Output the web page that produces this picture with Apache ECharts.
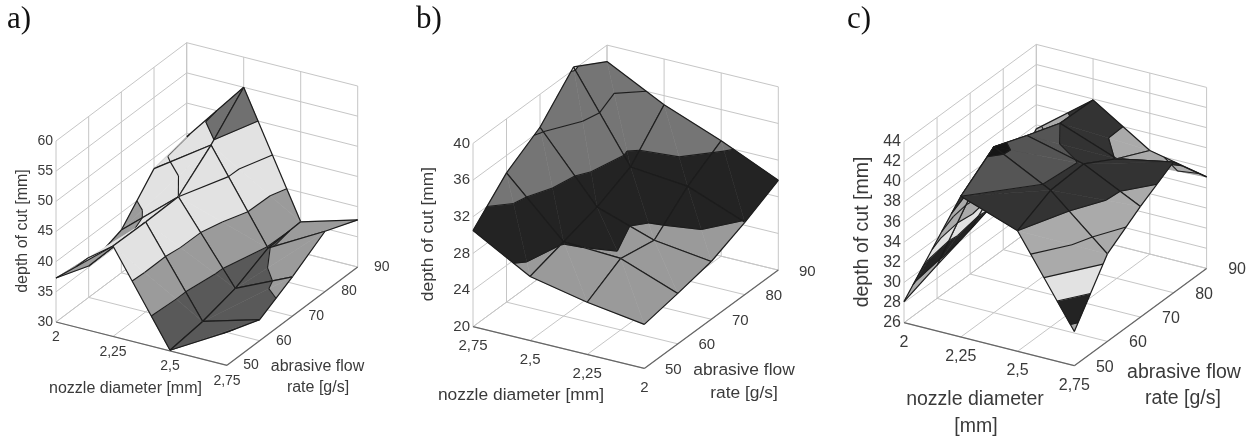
<!DOCTYPE html>
<html><head><meta charset="utf-8">
<style>html,body{margin:0;padding:0;background:#fff}#c{width:1255px;height:438px}</style>
<script src="https://cdn.jsdelivr.net/npm/echarts@6/dist/echarts.min.js"></script>
</head><body><div id="c"></div>
<script>
// ---------- data ----------
const nozzleAscending = ['2','2,25','2,5','2,75'];
const nozzleDescending = ['2,75','2,5','2,25','2'];
const flowTicks = ['50','60','70','80','90'];
const zTicksA = [30,35,40,45,50,55,60];
const zTicksB = [20,24,28,32,36,40];
const zTicksC = [26,28,30,32,34,36,38,40,42,44];

// depth of cut: one row per nozzle position, one value per flow rate 50..90
const depthA0 = [37.3,35.2,37.1,43.2,44.4];
const depthA1 = [45.0,44.9,45.0,49.5,55.0];
const depthA2 = [30.1,30.8,32.2,34.8,35.1];
const depthA3 = [35.5,33.5,36.5,40.0,37.8];

const depthB0 = [30.5,34.1,36.4,40.3,38.2];
const depthB1 = [27.0,28.1,29.2,30.9,35.0];
const depthB2 = [25.7,27.8,27.1,30.3,32.6];
const depthB3 = [24.8,25.5,26.3,27.9,29.8];

const depthC0 = [28.1,29.3,30.4,31.6,35.6];
const depthC1 = [40.0,42.5,41.2,40.0,39.9];
const depthC2 = [38.0,39.6,39.8,37.9,36.3];
const depthC3 = [29.4,34.7,37.0,39.0,35.1];

// ---------- fill colour per contour band, and the camera of each panel ----------
const bandsA = ['#595959','#9b9b9b','#e2e2e2','#e2e2e2','#707070','#707070'];
const bandsB = ['#999999','#9a9a9a','#232323','#757575','#757575','#757575'];
const bandsC = ['#aaaaaa','#aaaaaa','#232323','#e2e2e2','#aaaaaa','#aaaaaa','#333333','#555555','#151515'];

const panels = [
  {name:'a)', nx:7, rows:[depthA0,depthA1,depthA2,depthA3], nozzle:nozzleAscending, z:zTicksA, bands:bandsA, diagA:true, faintEdge:[0,3],
   O:[56,322], vi:[171,43.3], vj:[130.7,-98.3], h:181, tickFont:14, titleFont:16, tick:{zx:3,ny:15.5,fx:24,fy:0},
   zT:[23,231], nT:[[125.5,389,'nozzle diameter [mm]']], fT:[[317.5,367,'abrasive flow'],[318,388,'rate [g/s]']]},
  {name:'b)', nx:416, rows:[depthB0,depthB1,depthB2,depthB3], nozzle:nozzleDescending, z:zTicksB, bands:bandsB, diagA:false,
   O:[473,326.7], vi:[171.3,41.7], vj:[134,-98.3], h:183.3, tickFont:15, titleFont:17.4, tick:{zx:3,ny:19,fx:29,fy:1.5},
   zT:[428,234], nT:[[521,395,'nozzle diameter [mm]']], fT:[[744,370,'abrasive flow'],[744,393,'rate [g/s]']]},
  {name:'c)', nx:847, rows:[depthC0,depthC1,depthC2,depthC3], nozzle:nozzleAscending, z:zTicksC, bands:bandsC, diagA:true,
   O:[904,322.7], vi:[170.3,43], vj:[132.3,-97.3], h:181, tickFont:16, titleFont:19.5, tick:{zx:3,ny:19.5,fx:30.5,fy:1.5},
   zT:[863,232], nT:[[975,400,'nozzle diameter'],[976,427,'[mm]']], fT:[[1184,373,'abrasive flow'],[1183,399,'rate [g/s]']]}
];

const TEXT = '#3a3a3a', WALL = '#c6c6c6', AXIS = '#666666', MESH = '#1c1c1c';

function project(p, i, j, z){
  const lo = p.z[0], hi = p.z[p.z.length-1];
  const u = i/3, v = j/4, w = (z-lo)/(hi-lo);
  return [p.O[0]+u*p.vi[0]+v*p.vj[0], p.O[1]+u*p.vi[1]+v*p.vj[1]-w*p.h];
}

// clip a polygon of [i,j,z] vertices to z>=L (sign=1) or z<=L (sign=-1)
function clip(poly, L, sign){
  const out = [];
  for(let k=0;k<poly.length;k++){
    const a = poly[k], b = poly[(k+1)%poly.length];
    const da = sign*(a[2]-L), db = sign*(b[2]-L);
    if(da>=0) out.push(a);
    if((da>=0)!==(db>=0)){
      const t = da/(da-db);
      out.push([a[0]+t*(b[0]-a[0]), a[1]+t*(b[1]-a[1]), L]);
    }
  }
  return out;
}
function contourSegment(tri, L){
  const pts=[];
  for(let k=0;k<3;k++){
    const a=tri[k], b=tri[(k+1)%3];
    if((a[2]>=L)!==(b[2]>=L)){
      const t=(L-a[2])/(b[2]-a[2]);
      pts.push([a[0]+t*(b[0]-a[0]),a[1]+t*(b[1]-a[1]),L]);
    }
  }
  return pts.length===2?pts:null;
}

function cellRenderer(p){
  return function(params, api){
    const i = api.value(0), j = api.value(1);
    const V = (a,b)=>[a,b,p.rows[a][b]];
    const A=V(i,j), B=V(i+1,j), C=V(i+1,j+1), D=V(i,j+1);
    const tris = p.diagA ? [[A,C,D],[A,B,C]] : [[A,B,D],[B,C,D]];
    const P = q => api.coord(project(p,q[0],q[1],q[2]));
    const children=[];
    const levels=p.z;
    tris.forEach(tri=>{
      for(let b=0;b<levels.length-1;b++){
        let poly=clip(tri,levels[b],1);
        if(poly.length) poly=clip(poly,levels[b+1],-1);
        if(poly.length>2){
          const col=p.bands[b];
          children.push({type:'polygon',shape:{points:poly.map(P)},style:{fill:col,stroke:col,lineWidth:0.6}});
        }
      }
    });
    tris.forEach(tri=>{
      levels.forEach(L=>{
        const s=contourSegment(tri,L);
        if(s) children.push({type:'line',shape:{x1:P(s[0])[0],y1:P(s[0])[1],x2:P(s[1])[0],y2:P(s[1])[1]},style:{stroke:MESH,lineWidth:1.1}});
      });
    });
    const faint = p.faintEdge && p.faintEdge[0]===i && p.faintEdge[1]===j;
    [[A,B],[B,C],[C,D],[D,A]].forEach((e,k)=>{
      const a=P(e[0]), b=P(e[1]);
      const light = faint && k===3;
      children.push({type:'line',shape:{x1:a[0],y1:a[1],x2:b[0],y2:b[1]},style:{stroke:light?'#d4d4d4':MESH,lineWidth:1.2}});
    });
    return {type:'group',children};
  };
}

function boxSegments(p){
  const lo=p.z[0], hi=p.z[p.z.length-1], segs=[];
  for(let j=0;j<=4;j++){
    segs.push([0,j,lo,3,j,lo,0]);            // floor, along nozzle
    segs.push([0,j,lo,0,j,hi,0]);            // left wall vertical
  }
  for(let i=0;i<=3;i++){
    segs.push([i,0,lo,i,4,lo,0]);            // floor, along flow
    segs.push([i,4,lo,i,4,hi,0]);            // back wall vertical
  }
  p.z.forEach(z=>{
    segs.push([0,0,z,0,4,z,0]);
    segs.push([0,4,z,3,4,z,0]);
  });
  segs.push([0,0,lo,3,0,lo,1]);
  segs.push([3,0,lo,3,4,lo,1]);
  return segs;
}

const series=[];
panels.forEach(p=>{
  // box
  series.push({type:'custom',coordinateSystem:'cartesian2d',silent:true,clip:false,z:1,animation:false,
    data:boxSegments(p),
    renderItem(params,api){
      const a=api.coord(project(p,api.value(0),api.value(1),api.value(2)));
      const b=api.coord(project(p,api.value(3),api.value(4),api.value(5)));
      const strong=api.value(6)===1;
      return {type:'line',z2:strong?2:1,shape:{x1:a[0],y1:a[1],x2:b[0],y2:b[1]},style:{stroke:strong?AXIS:WALL,lineWidth:strong?1.2:1}};
    }});
  // surface, far cells first
  const cells=[];
  for(let j=3;j>=0;j--) for(let i=0;i<3;i++) cells.push([i,j]);
  series.push({type:'custom',coordinateSystem:'cartesian2d',silent:true,clip:false,z:2,animation:false,
    data:cells,renderItem:cellRenderer(p)});
  // tick labels
  const ticks=[];
  p.z.forEach((z,k)=>ticks.push({pos:[0,0,z],dx:-p.tick.zx,dy:0,text:String(z),align:'right'}));
  p.nozzle.forEach((t,k)=>ticks.push({pos:[k,0,p.z[0]],dx:0,dy:p.tick.ny,text:t,align:'center'}));
  flowTicks.forEach((t,k)=>ticks.push({pos:[3,k,p.z[0]],dx:p.tick.fx,dy:p.tick.fy,text:t,align:'center'}));
  series.push({type:'custom',coordinateSystem:'cartesian2d',silent:true,clip:false,z:3,animation:false,
    data:ticks.map(t=>t.pos),
    renderItem(params,api){
      const t=ticks[params.dataIndex];
      const c=api.coord(project(p,api.value(0),api.value(1),api.value(2)));
      return {type:'text',style:{text:t.text,x:c[0]+t.dx,y:c[1]+t.dy,align:t.align,textAlign:t.align,verticalAlign:'middle',textVerticalAlign:'middle',
        font:p.tickFont+'px "Liberation Sans"',fill:TEXT}};
    }});
});

const graphic=[];
panels.forEach(p=>{
  const font=p.titleFont+'px "Liberation Sans"';
  const add=(x,y,text,rot)=>graphic.push({type:'text',x,y,rotation:rot||0,silent:true,
    style:{text,font,fill:TEXT,align:'center',textAlign:'center',verticalAlign:'middle',textVerticalAlign:'middle'}});
  add(p.zT[0],p.zT[1],'depth of cut [mm]',Math.PI/2);
  p.nT.forEach(t=>add(t[0],t[1],t[2]));
  p.fT.forEach(t=>add(t[0],t[1],t[2]));
  graphic.push({type:'text',x:p.nx,y:20,silent:true,style:{text:p.name,font:'31px "Liberation Serif"',fill:'#111',
    align:'left',textAlign:'left',verticalAlign:'middle',textVerticalAlign:'middle'}});
});

const chart=echarts.init(document.getElementById('c'));
chart.setOption({
  animation:false,backgroundColor:'#fff',
  grid:{left:0,top:0,width:1255,height:438},
  xAxis:{type:'value',min:0,max:1255,show:false},
  yAxis:{type:'value',min:0,max:438,inverse:true,show:false},
  tooltip:{show:false},
  graphic:{elements:graphic},
  series
});
</script></body></html>
